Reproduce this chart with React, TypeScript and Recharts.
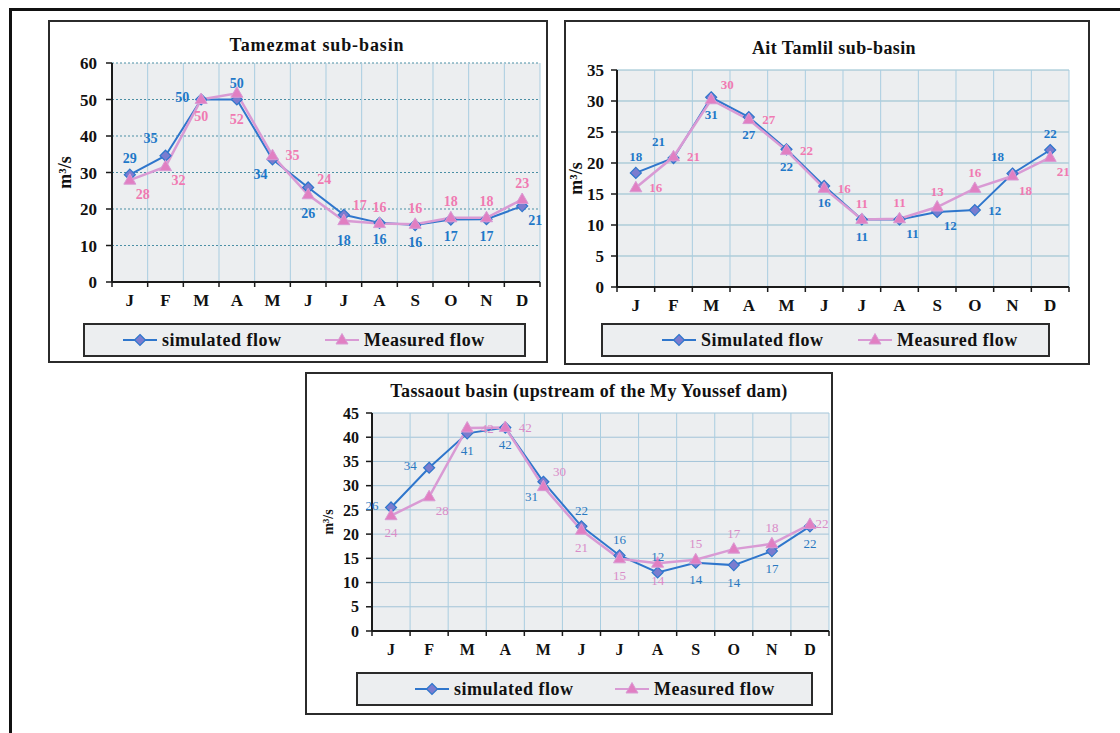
import React from 'react'
import { LineChart, Line, XAxis, YAxis, CartesianGrid, LabelList } from 'recharts'

// months, shared by all three panels
const MONTHS = ['J', 'F', 'M', 'A', 'M', 'J', 'J', 'A', 'S', 'O', 'N', 'D']

// Tamezmat sub-basin (m3/s)
const TAMEZMAT_SIM = [29.4, 34.6, 50, 50, 33.6, 25.9, 18.4, 16.2, 15.6, 17.1, 17.2, 20.8]
const TAMEZMAT_MEAS = [27.9, 31.6, 50, 51.7, 34.6, 23.9, 16.8, 16, 15.8, 17.6, 17.6, 22.6]
const TAMEZMAT_TICKS = [0, 10, 20, 30, 40, 50, 60]

// Ait Tamlil sub-basin (m3/s)
const AIT_TAMLIL_SIM = [18.4, 20.8, 30.6, 27.4, 22.2, 16.3, 10.9, 10.9, 12.1, 12.4, 18.3, 22.1]
const AIT_TAMLIL_MEAS = [16, 21, 30.2, 27, 22, 15.9, 10.9, 11, 12.9, 15.9, 17.9, 20.9]
const AIT_TAMLIL_TICKS = [0, 5, 10, 15, 20, 25, 30, 35]

// Tassaout basin, upstream of the My Youssef dam (m3/s)
const TASSAOUT_SIM = [25.5, 33.7, 40.8, 42, 30.8, 21.6, 15.6, 12.1, 14.1, 13.6, 16.5, 21.6]
const TASSAOUT_MEAS = [23.8, 27.7, 41.9, 42, 29.8, 20.8, 14.9, 14, 14.7, 16.9, 18, 22]
const TASSAOUT_TICKS = [0, 5, 10, 15, 20, 25, 30, 35, 40, 45]

const FONT = '"Liberation Serif", "Times New Roman", serif'
const SIM_LINE = '#2f76cc'
const SIM_FILL = '#7b7ccf'
const MEAS_LINE = '#d99ad4'
const MEAS_FILL = '#e17fc2'
const BORDER = 2

// where a value label sits relative to its point
const OFFSETS: Record<string, [number, number]> = {
  a: [0, -16],
  b: [0, 17],
  bb: [0, 26],
  l: [-19, -2],
  r: [20, 0],
  rs: [12, -1],
  al: [-15, -17],
  ar: [16, -15],
  bl: [-12, 15],
  br: [13, 14],
}

function Diamond({ cx, cy }: { cx: number; cy: number }) {
  const s = 5.5
  return (
    <path
      d={`M${cx},${cy - s}L${cx + s},${cy}L${cx},${cy + s}L${cx - s},${cy}Z`}
      fill={SIM_FILL}
      stroke={SIM_LINE}
      strokeWidth={1.2}
    />
  )
}

function Triangle({ cx, cy }: { cx: number; cy: number }) {
  return (
    <path
      d={`M${cx},${cy - 6.5}L${cx + 6},${cy + 4}L${cx - 6},${cy + 4}Z`}
      fill={MEAS_FILL}
      stroke={MEAS_LINE}
      strokeWidth={1}
    />
  )
}

const panels = [
  {
    title: 'Tamezmat sub-basin',
    titleX: 317,
    titleY: 45,
    titleSpacing: 0.9,
    box: [48, 20, 500, 343],
    plot: [112, 63, 540, 282],
    ticks: TAMEZMAT_TICKS,
    sim: TAMEZMAT_SIM,
    meas: TAMEZMAT_MEAS,
    simPlace: ['a', 'al', 'l', 'a', 'bl', 'bb', 'bb', 'b', 'b', 'b', 'b', 'br'],
    measPlace: ['br', 'br', 'b', 'bb', 'r', 'ar', 'ar', 'a', 'a', 'a', 'a', 'a'],
    simName: 'simulated flow',
    hDash: '2 2',
    hColor: '#4b8fa5',
    labelSize: 14,
    labelWeight: 700,
    simLabel: '#1f78c8',
    measLabel: '#f07ab2',
    tickFont: 17,
    yTickMargin: 9,
    yLabelX: 65,
    yLabelSize: 18,
    legend: [83, 323, 443, 34],
    legendItems: [123, 325],
    legendFont: 18,
  },
  {
    title: 'Ait Tamlil sub-basin',
    titleX: 834,
    titleY: 48,
    titleSpacing: 0.4,
    box: [564, 20, 526, 345],
    plot: [617, 70, 1069, 287],
    ticks: AIT_TAMLIL_TICKS,
    sim: AIT_TAMLIL_SIM,
    meas: AIT_TAMLIL_MEAS,
    simPlace: ['a', 'al', 'b', 'b', 'b', 'b', 'b', 'br', 'br', 'r', 'al', 'a'],
    measPlace: ['r', 'r', 'ar', 'r', 'r', 'r', 'a', 'a', 'a', 'a', 'br', 'br'],
    simName: 'Simulated flow',
    hDash: undefined,
    hColor: '#8fbccd',
    labelSize: 13,
    labelWeight: 700,
    simLabel: '#1f78c8',
    measLabel: '#f07ab2',
    tickFont: 17,
    yTickMargin: 7,
    yLabelX: 576,
    yLabelSize: 18,
    legend: [601, 323, 449, 34],
    legendItems: [662, 858],
    legendFont: 18,
  },
  {
    title: 'Tassaout basin (upstream of the My Youssef dam)',
    titleX: 589,
    titleY: 391,
    titleSpacing: 0.35,
    box: [305, 372, 528, 343],
    plot: [372, 413, 829, 631],
    ticks: TASSAOUT_TICKS,
    sim: TASSAOUT_SIM,
    meas: TASSAOUT_MEAS,
    simPlace: ['l', 'l', 'b', 'b', 'bl', 'a', 'a', 'a', 'b', 'b', 'b', 'b'],
    measPlace: ['b', 'br', 'r', 'r', 'ar', 'b', 'b', 'b', 'a', 'a', 'a', 'rs'],
    simName: 'simulated flow',
    hDash: undefined,
    hColor: '#a3c4d8',
    labelSize: 13,
    labelWeight: 400,
    simLabel: '#2a78c0',
    measLabel: '#d98cc8',
    tickFont: 16,
    yTickMargin: 7,
    yLabelX: 328,
    yLabelSize: 14,
    legend: [356, 672, 457, 34],
    legendItems: [415, 615],
    legendFont: 18,
  },
]

type PanelCfg = (typeof panels)[number]

function renderValue(l: any, place: string[], color: string, p: PanelCfg) {
  const x = l.x ?? l.viewBox?.x
  const y = l.y ?? l.viewBox?.y
  const [dx, dy] = OFFSETS[place[l.index]] || [0, -14]
  return (
    <text
      key={`v${l.index}`}
      x={x + dx}
      y={y + dy}
      textAnchor="middle"
      dominantBaseline="central"
      fontFamily={FONT}
      fontSize={p.labelSize}
      fontWeight={p.labelWeight}
      fill={color}
    >
      {Math.round(Number(l.value))}
    </text>
  )
}

function FlowPanel({ p }: { p: PanelCfg }) {
  const [bx, by, bw, bh] = p.box
  const [pl, pt, pr, pb] = p.plot
  const ox = bx + BORDER
  const oy = by + BORDER
  const cw = bw - 2 * BORDER
  const ch = bh - 2 * BORDER
  const yW = 50
  const xH = 30
  const margin = {
    left: pl - ox - yW,
    top: pt - oy,
    right: ox + cw - pr,
    bottom: oy + ch - pb - xH,
  }
  const band = (pr - pl) / MONTHS.length
  const data = MONTHS.map((m, i) => ({ m, sim: p.sim[i], meas: p.meas[i] }))
  const yMax = p.ticks[p.ticks.length - 1]
  const [lx, ly, lw, lh] = p.legend
  const ylx = p.yLabelX - ox
  const ylc = (pt + pb) / 2 - oy

  const monthTick = (t: any) => {
    const axisY = t.y - 10
    return (
      <g key={`t${t.index}`}>
        <text
          x={t.x}
          y={axisY + 18}
          textAnchor="middle"
          dominantBaseline="central"
          fontFamily={FONT}
          fontSize={p.tickFont}
          fontWeight={700}
          fill="#111"
        >
          {t.payload.value}
        </text>
        <line x1={t.x - band / 2} y1={axisY} x2={t.x - band / 2} y2={axisY + 5} stroke="#1a1a1a" strokeWidth={1.5} />
        {t.index === MONTHS.length - 1 && (
          <line x1={t.x + band / 2} y1={axisY} x2={t.x + band / 2} y2={axisY + 5} stroke="#1a1a1a" strokeWidth={1.5} />
        )}
      </g>
    )
  }

  return (
    <div
      style={{
        position: 'absolute',
        left: bx,
        top: by,
        width: bw,
        height: bh,
        boxSizing: 'border-box',
        border: `${BORDER}px solid #2b2b2b`,
        background: '#fff',
      }}
    >
      <div
        style={{
          position: 'absolute',
          left: p.titleX - ox - 300,
          top: p.titleY - oy - 11,
          width: 600,
          lineHeight: '22px',
          textAlign: 'center',
          fontFamily: FONT,
          fontWeight: 700,
          fontSize: 18,
          letterSpacing: p.titleSpacing,
          color: '#111',
          zIndex: 2,
        }}
      >
        {p.title}
      </div>
      <LineChart width={cw} height={ch} data={data} margin={margin}>
        <CartesianGrid
          vertical={false}
          fill="#eceef0"
          stroke={p.hColor}
          strokeDasharray={p.hDash}
          strokeWidth={1}
        />
        <CartesianGrid
          horizontal={false}
          stroke="#a9cde0"
          strokeWidth={1}
          verticalCoordinatesGenerator={({ offset }: any) =>
            MONTHS.map((_, i) => offset.left + (i + 1) * (offset.width / MONTHS.length))
          }
        />
        <XAxis
          dataKey="m"
          interval={0}
          padding={{ left: band / 2, right: band / 2 }}
          height={xH}
          tickSize={0}
          tickMargin={10}
          tickLine={false}
          axisLine={{ stroke: '#1a1a1a', strokeWidth: 2 }}
          tick={monthTick}
        />
        <YAxis
          type="number"
          domain={[0, yMax]}
          ticks={p.ticks}
          interval={0}
          width={yW}
          tickSize={6}
          tickMargin={p.yTickMargin}
          axisLine={{ stroke: '#1a1a1a', strokeWidth: 2 }}
          tickLine={{ stroke: '#1a1a1a', strokeWidth: 1.5 }}
          tick={{ fill: '#111', fontFamily: FONT, fontSize: p.tickFont, fontWeight: 700 }}
          label={() => (
            <text
              x={ylx}
              y={ylc}
              transform={`rotate(-90 ${ylx} ${ylc})`}
              textAnchor="middle"
              dominantBaseline="central"
              fontFamily={FONT}
              fontSize={p.yLabelSize}
              fontWeight={700}
              fill="#111"
            >
              m³/s
            </text>
          )}
        />
        <Line
          dataKey="sim"
          name={p.simName}
          stroke={SIM_LINE}
          strokeWidth={2}
          dot={(d: any) => <Diamond key={`s${d.index}`} cx={d.cx} cy={d.cy} />}
          activeDot={false}
          isAnimationActive={false}
        >
          <LabelList dataKey="sim" content={(l: any) => renderValue(l, p.simPlace, p.simLabel, p)} />
        </Line>
        <Line
          dataKey="meas"
          name="Measured flow"
          stroke={MEAS_LINE}
          strokeWidth={2.5}
          dot={(d: any) => <Triangle key={`m${d.index}`} cx={d.cx} cy={d.cy} />}
          activeDot={false}
          isAnimationActive={false}
        >
          <LabelList dataKey="meas" content={(l: any) => renderValue(l, p.measPlace, p.measLabel, p)} />
        </Line>
      </LineChart>
      <div
        style={{
          position: 'absolute',
          left: lx - ox,
          top: ly - oy,
          width: lw,
          height: lh,
          boxSizing: 'border-box',
          border: '2px solid #2b2b2b',
          background: '#eceef0',
        }}
      >
        {[
          { name: p.simName, color: SIM_LINE, Mark: Diamond },
          { name: 'Measured flow', color: MEAS_LINE, Mark: Triangle },
        ].map((it, i) => (
          <div
            key={it.name}
            style={{
              position: 'absolute',
              left: p.legendItems[i] - lx - 2,
              top: 0,
              height: lh - 4,
              display: 'flex',
              alignItems: 'center',
              whiteSpace: 'nowrap',
            }}
          >
            <svg width={34} height={16}>
              <line x1={0} y1={8} x2={34} y2={8} stroke={it.color} strokeWidth={2} />
              <it.Mark cx={17} cy={8} />
            </svg>
            <span
              style={{
                marginLeft: 5,
                fontFamily: FONT,
                fontWeight: 700,
                fontSize: p.legendFont,
                letterSpacing: 0.5,
                color: '#111',
              }}
            >
              {it.name}
            </span>
          </div>
        ))}
      </div>
    </div>
  )
}

export default function App() {
  return (
    <div
      style={{
        position: 'absolute',
        left: 0,
        top: 0,
        width: 1120,
        height: 733,
        background: '#fff',
        overflow: 'hidden',
      }}
    >
      <div style={{ position: 'absolute', left: 9, top: 8, width: 1111, height: 3, background: '#111' }} />
      <div style={{ position: 'absolute', left: 9, top: 8, width: 3, height: 725, background: '#111' }} />
      {panels.map((p) => (
        <FlowPanel key={p.title} p={p} />
      ))}
    </div>
  )
}
